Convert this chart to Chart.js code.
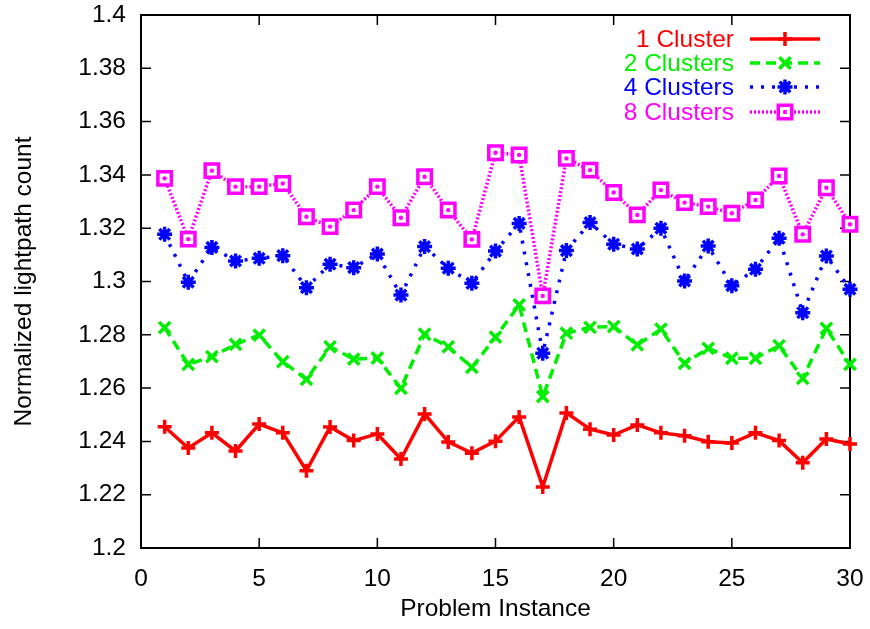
<!DOCTYPE html>
<html>
<head>
<meta charset="utf-8">
<script src="https://cdn.jsdelivr.net/npm/chart.js@4.4.1/dist/chart.umd.min.js"></script>
<style>
html,body{margin:0;padding:0;background:#fff;}
#wrap{width:870px;height:629px;}
</style>
</head>
<body>
<div id="wrap"><canvas id="c" width="870" height="629"></canvas></div>
<script>
const instances = [1,2,3,4,5,6,7,8,9,10,11,12,13,14,15,16,17,18,19,20,21,22,23,24,25,26,27,28,29,30];
const cluster1 = [1.2455,1.2375,1.2432,1.2364,1.2465,1.2432,1.2290,1.2454,1.2403,1.2428,1.2334,1.2503,1.2398,1.2356,1.2401,1.2492,1.2229,1.2507,1.2446,1.2424,1.2462,1.2432,1.2421,1.2399,1.2394,1.2432,1.2403,1.2320,1.2409,1.2390];
const cluster2 = [1.2827,1.2689,1.2718,1.2764,1.2799,1.2699,1.2633,1.2755,1.2709,1.2713,1.2599,1.2802,1.2755,1.2678,1.2791,1.2912,1.2568,1.2806,1.2828,1.2831,1.2762,1.2821,1.2693,1.2749,1.2712,1.2712,1.2759,1.2637,1.2824,1.2689];
const cluster4 = [1.3177,1.2997,1.3128,1.3077,1.3087,1.3097,1.2977,1.3065,1.3052,1.3103,1.2949,1.3131,1.3050,1.2993,1.3114,1.3218,1.2731,1.3116,1.3221,1.3140,1.3122,1.3200,1.3002,1.3133,1.2984,1.3046,1.3162,1.2883,1.3096,1.2971];
const cluster8 = [1.3387,1.3159,1.3416,1.3356,1.3356,1.3368,1.3243,1.3206,1.3268,1.3356,1.3239,1.3393,1.3268,1.3158,1.3483,1.3475,1.2946,1.3462,1.3418,1.3334,1.3250,1.3343,1.3296,1.3281,1.3256,1.3306,1.3396,1.3177,1.3352,1.3215];
const seriesNames = ["1 Cluster","2 Clusters","4 Clusters","8 Clusters"];
const xTicks = [0,5,10,15,20,25,30];
const yTicks = [1.2,1.22,1.24,1.26,1.28,1.3,1.32,1.34,1.36,1.38,1.4];

const FONT = "'Liberation Sans', Arial, Helvetica, sans-serif";
const FS = 24.5;
const colors = ["#ff0000","#00ee00","#0000ff","#ff00ff"];
const dashes = [[], [10,6], [3,8], [2,2]];
const pstyles = ["cross","crossRot","star","rect"];
const pradius = [7,8,7.5,9.5];
const pwidth = [3.5,3.5,3.5,3.5];

function toXY(arr){ return arr.map((v,i)=>({x:instances[i], y:v})); }

const allSeries = [cluster1,cluster2,cluster4,cluster8];
const datasets = allSeries.map((arr,i)=>({
  label: seriesNames[i],
  data: toXY(arr),
  borderColor: colors[i],
  backgroundColor: i===3 ? "#ffffff" : colors[i],
  pointBorderColor: colors[i],
  pointBackgroundColor: i===3 ? "#ffffff" : colors[i],
  borderWidth: 3.5,
  borderDash: dashes[i],
  pointStyle: pstyles[i],
  pointRadius: pradius[i],
  pointBorderWidth: pwidth[i],
  pointHoverRadius: pradius[i],
  tension: 0,
  fill: false,
  clip: false,
  order: 4-i
}));
// center dots of the 8-cluster squares
datasets.push({
  label: "_dots",
  data: toXY(cluster8),
  showLine: false,
  pointStyle: "circle",
  pointRadius: 2.2,
  pointBorderWidth: 0,
  pointBackgroundColor: colors[3],
  borderColor: colors[3],
  clip: false,
  order: 0
});

const boxPlugin = {
  id: "gnubox",
  beforeDatasetsDraw(chart){
    const {ctx, chartArea:a, scales} = chart;
    ctx.save();
    ctx.strokeStyle = "#000";
    ctx.lineWidth = 2;
    ctx.beginPath();
    ctx.rect(a.left, a.top, a.right-a.left, a.bottom-a.top);
    ctx.stroke();
    ctx.lineWidth = 1.5;
    const tl = 10;
    ctx.beginPath();
    yTicks.forEach(v=>{
      const y = scales.y.getPixelForValue(v);
      ctx.moveTo(a.left, y); ctx.lineTo(a.left+tl, y);
      ctx.moveTo(a.right, y); ctx.lineTo(a.right-tl, y);
    });
    xTicks.forEach(v=>{
      const x = scales.x.getPixelForValue(v);
      ctx.moveTo(x, a.bottom); ctx.lineTo(x, a.bottom-tl);
      ctx.moveTo(x, a.top); ctx.lineTo(x, a.top+tl);
    });
    ctx.stroke();
    ctx.restore();
  }
};

const legendPlugin = {
  id: "gnulegend",
  afterDatasetsDraw(chart){
    const {ctx} = chart;
    const rows = [39, 63, 87, 112];
    const textRight = 734, x0 = 750, x1 = 820, xm = 785;
    ctx.save();
    ctx.font = FS + "px " + FONT;
    ctx.textAlign = "right";
    ctx.textBaseline = "middle";
    seriesNames.forEach((name,i)=>{
      const y = rows[i];
      ctx.fillStyle = colors[i];
      ctx.fillText(name, textRight, y+1);
      ctx.strokeStyle = colors[i];
      ctx.lineWidth = 3.5;
      ctx.setLineDash(dashes[i]);
      ctx.beginPath(); ctx.moveTo(x0, y); ctx.lineTo(x1, y); ctx.stroke();
      ctx.setLineDash([]);
      ctx.fillStyle = i===3 ? "#ffffff" : colors[i];
      ctx.strokeStyle = colors[i];
      ctx.lineWidth = pwidth[i];
      Chart.helpers.drawPoint(ctx, {pointStyle: pstyles[i], radius: pradius[i], rotation: 0, borderWidth: pwidth[i]}, xm, y);
      if (i===3){
        ctx.fillStyle = colors[3];
        ctx.beginPath(); ctx.arc(xm, y, 2.2, 0, Math.PI*2); ctx.fill();
      }
    });
    ctx.restore();
  }
};

new Chart(document.getElementById("c"), {
  type: "line",
  data: { datasets },
  options: {
    responsive: false,
    animation: false,
    devicePixelRatio: 1,
    layout: { padding: { left: 0, right: 20, top: 15, bottom: 0 } },
    plugins: { legend: { display: false }, tooltip: { enabled: false } },
    scales: {
      x: {
        type: "linear",
        min: 0, max: 30,
        grid: { display: false, drawTicks: false },
        border: { display: false },
        afterBuildTicks(s){ s.ticks = xTicks.map(v=>({value:v})); },
        afterFit(s){ s.height = 81; s.paddingLeft = 0; s.paddingRight = 0; },
        ticks: { color: "#000", font: { family: FONT, size: FS }, padding: 17, maxRotation: 0,
          callback: v => String(v) },
        title: { display: true, text: "Problem Instance", color: "#000",
          font: { family: FONT, size: FS }, padding: { top: 0, bottom: 5 } }
      },
      y: {
        type: "linear",
        min: 1.2, max: 1.4,
        grid: { display: false, drawTicks: false },
        border: { display: false },
        afterBuildTicks(s){ s.ticks = yTicks.map(v=>({value:v})); },
        afterFit(s){ s.width = 141; s.paddingTop = 0; s.paddingBottom = 0; },
        ticks: { color: "#000", font: { family: FONT, size: FS }, padding: 15,
          callback: v => String(Number(v.toFixed(2))) },
        title: { display: true, text: "Normalized lightpath count", color: "#000",
          font: { family: FONT, size: FS }, padding: { top: 10, bottom: 0 } }
      }
    }
  },
  plugins: [boxPlugin, legendPlugin]
});
</script>
</body>
</html>
